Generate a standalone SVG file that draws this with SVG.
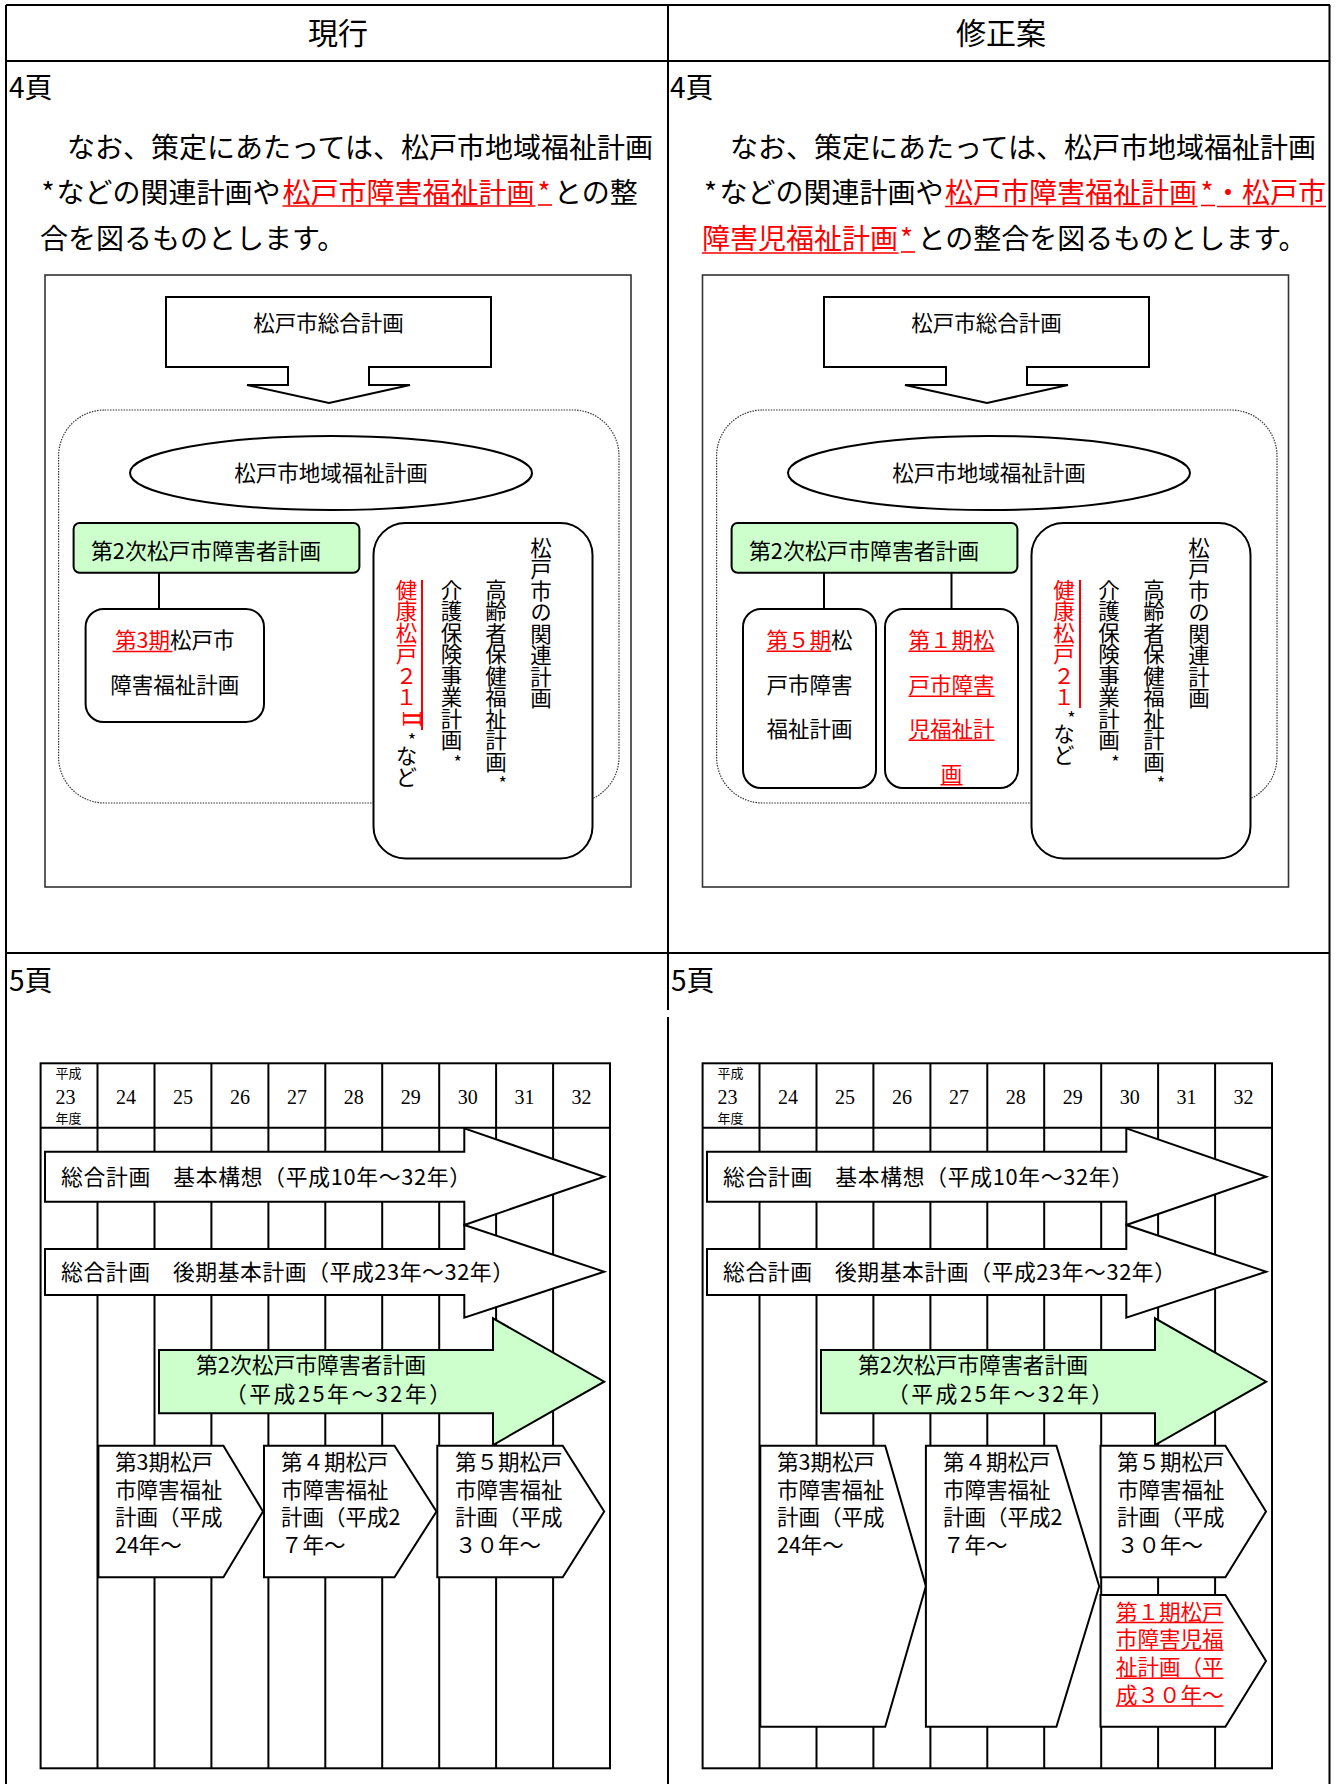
<svg xmlns="http://www.w3.org/2000/svg" width="1337" height="1784" viewBox="0 0 1337 1784">
<style>
text{font-family:"Noto Sans CJK JP","Noto Sans",sans-serif;fill:#000}
.h{font-size:30px}
.pg{font-size:28px}
.p{font-size:28px}
.d{font-size:21.5px}
.v{font-size:21.5px;writing-mode:vertical-rl}
.st{font-size:18px}
.n{font-family:"Liberation Serif","Noto Sans CJK JP",serif;font-size:20px}
.s{font-size:13px}
.a{font-size:21.8px}
.b{font-size:21.5px}
.rn{font-family:"DejaVu Serif","DejaVu Sans",serif;font-size:24px}
.r{fill:#f00}
.ln{stroke:#000;stroke-width:2;fill:none}
.ul{stroke:#f00;stroke-width:1.6}
.vl{stroke:#f00;stroke-width:2}
.sh{fill:#fff;stroke:#000;stroke-width:2}
.gr{fill:#ccffcc;stroke:#000;stroke-width:2}
.frame{fill:#fff;stroke:#333;stroke-width:1.6}
.dot{fill:none;stroke:#333;stroke-width:1.2;stroke-dasharray:1.5 1.2}
</style>
<rect width="1337" height="1784" fill="#fff"/>

<g id="table" class="ln">
<path d="M6 5H1330M6 5V1784M1329.5 5V1784M6 61H1330M6 953H1330M668 5V1010M668 1017V1784"/>
</g>

<g id="headers">
<text class="h" x="338" y="44.4" text-anchor="middle">現行</text>
<text class="h" x="1001" y="44.4" text-anchor="middle">修正案</text>
<text class="pg" x="9" y="97.6">4頁</text>
<text class="pg" x="670" y="97.6">4頁</text>
<text class="pg" x="9" y="991">5頁</text>
<text class="pg" x="671" y="991">5頁</text>
</g>

<g id="para-left">
<text class="p" x="67" y="157.6">なお、策定にあたっては、松戸市地域福祉計画</text>
<text class="p" y="202.6"><tspan x="41.5">*</tspan><tspan x="56.5">などの関連計画や</tspan><tspan x="282.5" class="r">松戸市障害福祉計画</tspan><tspan x="537.5" class="r">*</tspan><tspan x="554">との整</tspan></text>
<text class="p" x="40" y="248.6">合を図るものとします。</text>
<line class="ul" x1="282.5" y1="206" x2="535.5" y2="206"/>
<line class="ul" x1="538" y1="205" x2="552" y2="205"/>
</g>

<g id="para-right">
<text class="p" x="730" y="157.6">なお、策定にあたっては、松戸市地域福祉計画</text>
<text class="p" y="202.6"><tspan x="704">*</tspan><tspan x="719.5">などの関連計画や</tspan><tspan x="945" class="r">松戸市障害福祉計画</tspan><tspan x="1200.5" class="r">*</tspan><tspan x="1214" class="r">・松戸市</tspan></text>
<text class="p" y="248.6"><tspan x="702" class="r">障害児福祉計画</tspan><tspan x="900" class="r">*</tspan><tspan x="917.5">との整合を図るものとします。</tspan></text>
<line class="ul" x1="945" y1="206.5" x2="1197.5" y2="206.5"/>
<line class="ul" x1="1201" y1="205.5" x2="1215" y2="205.5"/>
<line class="ul" x1="1217" y1="206.5" x2="1326" y2="206.5"/>
<line class="ul" x1="702" y1="253" x2="898.5" y2="253"/>
<line class="ul" x1="901" y1="252" x2="915" y2="252"/>
</g>

<!-- 4頁 diagram, current -->
<g id="diagram-left">
<rect class="frame" x="45" y="275" width="586" height="612"/>
<g id="connectors-left"><line class="ln" x1="159" y1="572.7" x2="159" y2="609"/></g>
<g id="sogo-left"><polygon class="sh" points="166,297 491,297 491,367 369,367 369,385 410,385 329,403 247,385 288,385 288,367 166,367"/><text class="d" x="328.5" y="331" text-anchor="middle">松戸市総合計画</text></g>
<g id="area-left"><rect class="dot" x="58.6" y="410" width="560.4" height="393" rx="46"/></g>
<g id="chiiki-left"><ellipse class="sh" cx="331" cy="473" rx="201" ry="37"/><text class="d" x="331" y="480.5" text-anchor="middle">松戸市地域福祉計画</text></g>
<g id="shogaisha-left"><rect class="gr" x="73.6" y="523" width="285.8" height="49.7" rx="6"/><text class="d" x="91" y="558.5" style="font-size:21.8px">第2次松戸市障害者計画</text></g>
<g id="fukushi3-left"><rect class="sh" x="85.6" y="609" width="178.4" height="113" rx="18"/>
<text class="d" text-anchor="middle"><tspan x="174.8" y="648.2"><tspan class="r">第3期</tspan>松戸市</tspan><tspan x="174.8" y="693.2">障害福祉計画</tspan></text>
<line class="ul" x1="112.5" y1="651.5" x2="172.4" y2="651.5"/></g>
<g id="kanren-left"><rect class="sh" x="373.5" y="523" width="219" height="335.5" rx="32"/>
<text class="v" x="541" y="537">松戸市の関連計画</text>
<text class="v" x="496" y="579">高齢者保健福祉計画</text>
<text class="st" x="502.8" y="790" text-anchor="middle">*</text>
<text class="v" x="451.5" y="579">介護保険事業計画</text>
<text class="st" x="457.8" y="768.7" text-anchor="middle">*</text>
<text class="v r" x="406.5" y="579">健康松戸２１</text>
<text class="rn r" x="0" y="0" text-anchor="middle" dominant-baseline="central" transform="translate(410.5,719) rotate(90)">Ⅱ</text>
<text class="st" x="412" y="747" text-anchor="middle">*</text>
<text class="v" x="406.5" y="745">など</text>
<line class="vl" x1="422" y1="580" x2="422" y2="730"/></g>
</g>

<!-- 4頁 diagram, proposal -->
<g id="diagram-right">
<rect class="frame" x="702.5" y="275" width="586" height="612"/>
<g id="connectors-right"><path class="ln" d="M824 572.7V609M951.5 572.7V609"/></g>
<g id="sogo-right"><polygon class="sh" points="824,297 1149,297 1149,367 1027,367 1027,385 1068,385 987,403 905,385 946,385 946,367 824,367"/><text class="d" x="986.5" y="331" text-anchor="middle">松戸市総合計画</text></g>
<g id="area-right"><rect class="dot" x="716.6" y="410" width="560.4" height="393" rx="46"/></g>
<g id="chiiki-right"><ellipse class="sh" cx="989" cy="473" rx="201" ry="37"/><text class="d" x="989" y="480.5" text-anchor="middle">松戸市地域福祉計画</text></g>
<g id="shogaisha-right"><rect class="gr" x="731.6" y="523" width="285.8" height="49.7" rx="6"/><text class="d" x="749" y="558.5" style="font-size:21.8px">第2次松戸市障害者計画</text></g>
<g id="fukushi5-right"><rect class="sh" x="743" y="609" width="133" height="179" rx="18"/>
<text class="d" text-anchor="middle"><tspan x="809.5" y="648.2"><tspan class="r">第５期</tspan>松</tspan><tspan x="809.5" y="693.2">戸市障害</tspan><tspan x="809.5" y="737.2">福祉計画</tspan></text>
<line class="ul" x1="766.5" y1="651.2" x2="831" y2="651.2"/></g>
<g id="jifukushi1-right"><rect class="sh" x="885" y="609" width="133" height="179" rx="18"/>
<text class="d r" text-anchor="middle"><tspan x="951.5" y="648.2">第１期松</tspan><tspan x="951.5" y="693.2">戸市障害</tspan><tspan x="951.5" y="737.2">児福祉計</tspan><tspan x="951.5" y="781.7">画</tspan></text>
<path class="ul" d="M908.5 651.2H994.5M908.5 696.2H994.5M908.5 740.2H994.5M940.5 784.7H962.5"/></g>
<g id="kanren-right"><rect class="sh" x="1031.5" y="523" width="219" height="335.5" rx="32"/>
<text class="v" x="1199" y="537">松戸市の関連計画</text>
<text class="v" x="1154" y="579">高齢者保健福祉計画</text>
<text class="st" x="1161" y="790" text-anchor="middle">*</text>
<text class="v" x="1109" y="579">介護保険事業計画</text>
<text class="st" x="1115.4" y="768.7" text-anchor="middle">*</text>
<text class="v r" x="1064" y="579">健康松戸２１</text>
<text class="st" x="1071.4" y="724.5" text-anchor="middle">*</text>
<text class="v" x="1064" y="723">など</text>
<line class="vl" x1="1080" y1="580" x2="1080" y2="708"/></g>
</g>

<!-- 5頁 timeline, current -->
<g id="chart-left">
<g id="grid-left">
<rect class="ln" x="40.6" y="1063.3" width="569.4" height="705"/>
<path class="ln" d="M40.6 1127.7H610M97.5 1063.3V1768.3M154.5 1063.3V1768.3M211.4 1063.3V1768.3M268.4 1063.3V1768.3M325.3 1063.3V1768.3M382.2 1063.3V1768.3M439.2 1063.3V1768.3M496.1 1063.3V1768.3M553.1 1063.3V1768.3"/>
<text class="s" x="55.6" y="1078">平成</text>
<text class="n" x="55.6" y="1104">23</text>
<text class="s" x="55.6" y="1123">年度</text>
<g text-anchor="middle">
<text class="n" x="126" y="1104">24</text><text class="n" x="183" y="1104">25</text><text class="n" x="239.9" y="1104">26</text><text class="n" x="296.9" y="1104">27</text><text class="n" x="353.8" y="1104">28</text><text class="n" x="410.7" y="1104">29</text><text class="n" x="467.7" y="1104">30</text><text class="n" x="524.6" y="1104">31</text><text class="n" x="581.5" y="1104">32</text>
</g>
</g>
<g id="kihonkoso-left"><polygon class="sh" points="45,1151.7 464.3,1151.7 464.3,1128.3 604.2,1176.7 464.3,1225 464.3,1201.7 45,1201.7"/><text class="a" x="61" y="1185" textLength="410" lengthAdjust="spacing">総合計画　基本構想（平成10年～32年）</text></g>
<g id="koki-left"><polygon class="sh" points="45,1249 464.3,1249 464.3,1225 604.2,1271.7 464.3,1317.7 464.3,1295 45,1295"/><text class="a" x="61" y="1280" textLength="453" lengthAdjust="spacing">総合計画　後期基本計画（平成23年～32年）</text></g>
<g id="shogaisha-plan-left"><polygon class="gr" points="159,1350 493,1350 493,1318.3 604.2,1381.7 493,1445 493,1413.3 159,1413.3"/><text class="a" x="196" y="1373.4">第2次松戸市障害者計画</text><text class="a" x="225" y="1401.7" textLength="226" lengthAdjust="spacing">（平成25年～32年）</text></g>
<g id="p3-left"><polygon class="sh" points="98.4,1445.7 223.4,1445.7 263,1511.5 223.4,1577.3 98.4,1577.3"/>
<text class="b"><tspan x="115" y="1469.7">第3期松戸</tspan><tspan x="115" y="1498">市障害福祉</tspan><tspan x="115" y="1524.7">計画（平成</tspan><tspan x="115" y="1553">24年～</tspan></text></g>
<g id="p4-left"><polygon class="sh" points="264,1445.7 394.5,1445.7 436.5,1511.5 394.5,1577.3 264,1577.3"/>
<text class="b"><tspan x="281" y="1469.7">第４期松戸</tspan><tspan x="281" y="1498">市障害福祉</tspan><tspan x="281" y="1524.7">計画（平成2</tspan><tspan x="281" y="1553">７年～</tspan></text></g>
<g id="p5-left"><polygon class="sh" points="437.3,1445.7 562.7,1445.7 604.2,1511.5 562.7,1577.3 437.3,1577.3"/>
<text class="b"><tspan x="455" y="1469.7">第５期松戸</tspan><tspan x="455" y="1498">市障害福祉</tspan><tspan x="455" y="1524.7">計画（平成</tspan><tspan x="455" y="1553">３０年～</tspan></text></g>
</g>

<!-- 5頁 timeline, proposal -->
<g id="chart-right">
<g id="grid-right" transform="translate(662,0)">
<rect class="ln" x="40.6" y="1063.3" width="569.4" height="705"/>
<path class="ln" d="M40.6 1127.7H610M97.5 1063.3V1768.3M154.5 1063.3V1768.3M211.4 1063.3V1768.3M268.4 1063.3V1768.3M325.3 1063.3V1768.3M382.2 1063.3V1768.3M439.2 1063.3V1768.3M496.1 1063.3V1768.3M553.1 1063.3V1768.3"/>
<text class="s" x="55.6" y="1078">平成</text>
<text class="n" x="55.6" y="1104">23</text>
<text class="s" x="55.6" y="1123">年度</text>
<g text-anchor="middle">
<text class="n" x="126" y="1104">24</text><text class="n" x="183" y="1104">25</text><text class="n" x="239.9" y="1104">26</text><text class="n" x="296.9" y="1104">27</text><text class="n" x="353.8" y="1104">28</text><text class="n" x="410.7" y="1104">29</text><text class="n" x="467.7" y="1104">30</text><text class="n" x="524.6" y="1104">31</text><text class="n" x="581.5" y="1104">32</text>
</g>
</g>
<g id="kihonkoso-right" transform="translate(662,0)"><polygon class="sh" points="45,1151.7 464.3,1151.7 464.3,1128.3 604.2,1176.7 464.3,1225 464.3,1201.7 45,1201.7"/><text class="a" x="61" y="1185" textLength="410" lengthAdjust="spacing">総合計画　基本構想（平成10年～32年）</text></g>
<g id="koki-right" transform="translate(662,0)"><polygon class="sh" points="45,1249 464.3,1249 464.3,1225 604.2,1271.7 464.3,1317.7 464.3,1295 45,1295"/><text class="a" x="61" y="1280" textLength="453" lengthAdjust="spacing">総合計画　後期基本計画（平成23年～32年）</text></g>
<g id="shogaisha-plan-right" transform="translate(662,0)"><polygon class="gr" points="159,1350 493,1350 493,1318.3 604.2,1381.7 493,1445 493,1413.3 159,1413.3"/><text class="a" x="196" y="1373.4">第2次松戸市障害者計画</text><text class="a" x="225" y="1401.7" textLength="226" lengthAdjust="spacing">（平成25年～32年）</text></g>
<g id="p3-right"><polygon class="sh" points="760.3,1445.7 885.2,1445.7 925.9,1586.2 885.2,1726.7 760.3,1726.7"/>
<text class="b"><tspan x="777" y="1469.7">第3期松戸</tspan><tspan x="777" y="1498">市障害福祉</tspan><tspan x="777" y="1524.7">計画（平成</tspan><tspan x="777" y="1553">24年～</tspan></text></g>
<g id="p4-right"><polygon class="sh" points="925.9,1445.7 1056.4,1445.7 1099.2,1586.2 1056.4,1726.7 925.9,1726.7"/>
<text class="b"><tspan x="943" y="1469.7">第４期松戸</tspan><tspan x="943" y="1498">市障害福祉</tspan><tspan x="943" y="1524.7">計画（平成2</tspan><tspan x="943" y="1553">７年～</tspan></text></g>
<g id="p5-right"><polygon class="sh" points="1100.5,1445.7 1225.4,1445.7 1266,1511.5 1225.4,1577.3 1100.5,1577.3"/>
<text class="b"><tspan x="1117" y="1469.7">第５期松戸</tspan><tspan x="1117" y="1498">市障害福祉</tspan><tspan x="1117" y="1524.7">計画（平成</tspan><tspan x="1117" y="1553">３０年～</tspan></text></g>
<g id="pj1-right"><polygon class="sh" points="1100.5,1595 1225.4,1595 1266,1661 1225.4,1726.7 1100.5,1726.7"/>
<text class="b r"><tspan x="1116" y="1619.7">第１期松戸</tspan><tspan x="1116" y="1647.3">市障害児福</tspan><tspan x="1116" y="1675.3">祉計画（平</tspan><tspan x="1116" y="1703">成３０年～</tspan></text>
<path class="ul" d="M1116 1622.5H1223.5M1116 1650.3H1223.5M1116 1678.3H1223.5M1116 1706H1223.5"/></g>
</g>
</svg>
